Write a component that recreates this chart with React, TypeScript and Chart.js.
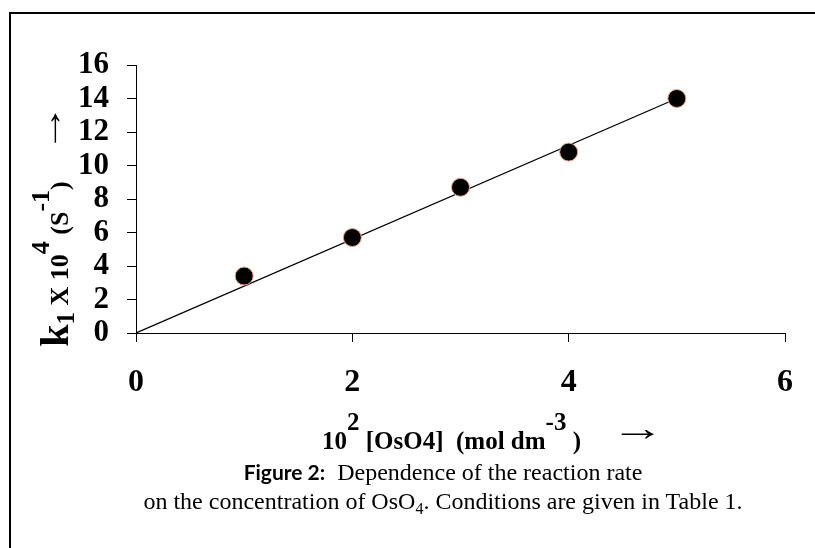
import React, { useEffect, useRef } from "react";
import { Chart, registerables } from "chart.js";
Chart.register(...registerables);

const concentration = [1, 2, 3, 4, 5];
const rateConstant = [3.4, 5.7, 8.7, 10.8, 14.0];
const trendX = [0, 5];
const trendY = [0, 14.0];
const xTicks = [0, 2, 4, 6];
const yTicks = [0, 2, 4, 6, 8, 10, 12, 14, 16];

const W = 815;
const H = 548;
const SERIF = "'Liberation Serif', 'Times New Roman', serif";
const SANS = "Lato, 'Open Sans', sans-serif";

const supStyle: React.CSSProperties = { position: "relative", top: "-0.75em", verticalAlign: "baseline" };
const subStyle: React.CSSProperties = { position: "relative", top: "0.25em", verticalAlign: "baseline" };

export default function App() {
  const ref = useRef<HTMLCanvasElement>(null);
  useEffect(() => {
    const chart = new Chart(ref.current!, {
      type: "scatter",
      data: {
        datasets: [
          {
            type: "line",
            data: trendX.map((x, i) => ({ x, y: trendY[i] })),
            borderColor: "#000",
            borderWidth: 1.3,
            pointRadius: 0,
            fill: false,
            tension: 0,
            order: 1,
          } as any,
          {
            type: "scatter",
            data: concentration.map((x, i) => ({ x, y: rateConstant[i] })),
            backgroundColor: "#000",
            borderColor: "#f2a58a",
            borderWidth: 1,
            pointRadius: 9,
            order: 0,
          } as any,
        ],
      },
      options: {
        animation: false,
        responsive: false,
        devicePixelRatio: 1,
        layout: { padding: { top: 65, right: 14, left: 0, bottom: 0 } },
        plugins: { legend: { display: false }, tooltip: { enabled: false }, title: { display: false } },
        scales: {
          x: {
            type: "linear",
            min: 0,
            max: 6,
            afterBuildTicks: (s: any) => {
              s.ticks = xTicks.map((v) => ({ value: v }));
            },
            afterFit: (s: any) => {
              s.height = H - 333;
            },
            grid: { drawOnChartArea: false, drawTicks: true, tickLength: 9, color: "#000" },
            border: { display: true, color: "#000", width: 1 },
            ticks: {
              font: { family: SERIF, size: 32, weight: "bold" },
              color: "#000",
              padding: 22,
              maxRotation: 0,
              autoSkip: false,
            },
          },
          y: {
            type: "linear",
            min: 0,
            max: 16,
            afterBuildTicks: (s: any) => {
              s.ticks = yTicks.map((v) => ({ value: v }));
            },
            afterFit: (s: any) => {
              s.width = 136;
            },
            grid: { drawOnChartArea: false, drawTicks: true, tickLength: 9, color: "#000" },
            border: { display: true, color: "#000", width: 1 },
            ticks: {
              font: { family: SERIF, size: 31, weight: "bold" },
              color: "#000",
              padding: 18,
              autoSkip: false,
            },
          },
        },
      },
    });
    return () => chart.destroy();
  }, []);

  return (
    <div style={{ position: "absolute", left: 0, top: 0, width: W, height: H, overflow: "hidden", background: "#fff" }}>
      <div
        style={{
          position: "absolute",
          left: 9,
          top: 12,
          width: W + 20,
          height: H + 20,
          border: "2px solid #000",
          boxSizing: "border-box",
        }}
      />
      <canvas ref={ref} width={W} height={H} style={{ position: "absolute", left: 0, top: 0, width: W, height: H }} />
      {/* Y axis title */}
      <div
        style={{
          position: "absolute",
          left: 55,
          top: 264,
          transform: "translate(-50%,-50%) rotate(-90deg)",
          whiteSpace: "pre",
          fontFamily: SERIF,
          fontWeight: "bold",
          fontSize: 26,
          lineHeight: 1,
        }}
      >
        <span style={{ fontSize: 40 }}>k</span>
        <span style={{ ...subStyle, fontSize: 25 }}>1</span>
        {" X 10"}
        <span style={supStyle}>4</span>
        {" (S"}
        <span style={supStyle}>-1</span>
        {")"}
      </div>
      <div
        style={{
          position: "absolute",
          left: 50,
          top: 128,
          transform: "translate(-50%,-50%) rotate(-90deg) scaleX(1.45)",
          whiteSpace: "pre",
          fontFamily: SERIF,
          fontSize: 34,
          lineHeight: 1,
        }}
      >
        →
      </div>
      {/* X axis title */}
      <div
        style={{
          position: "absolute",
          left: 322,
          top: 428,
          whiteSpace: "pre",
          fontFamily: SERIF,
          fontWeight: "bold",
          fontSize: 25,
          lineHeight: 1,
        }}
      >
        {"10"}
        <span style={supStyle}>2</span>
        {" [OsO4]  (mol dm"}
        <span style={supStyle}>-3</span>
        {" )"}
      </div>
      <div
        style={{
          position: "absolute",
          left: 638,
          top: 428,
          transform: "translate(-50%,-50%) scaleX(1.5)",
          whiteSpace: "pre",
          fontFamily: SERIF,
          fontSize: 36,
          lineHeight: 1,
        }}
      >
        →
      </div>
      {/* Caption */}
      <div
        style={{
          position: "absolute",
          left: 443,
          top: 457,
          transform: "translateX(-50%)",
          whiteSpace: "pre",
          fontFamily: SERIF,
          fontSize: 24,
          lineHeight: "29px",
          textAlign: "center",
        }}
      >
        <div>
          <span style={{ fontFamily: SANS, fontWeight: "bold", fontSize: 21 }}>Figure 2:</span>
          {"  Dependence of the reaction rate"}
        </div>
        <div>
          {"on the concentration of OsO"}
          <span style={{ fontSize: 16, position: "relative", top: "0.3em" }}>4</span>
          {". Conditions are given in Table 1."}
        </div>
      </div>
    </div>
  );
}
